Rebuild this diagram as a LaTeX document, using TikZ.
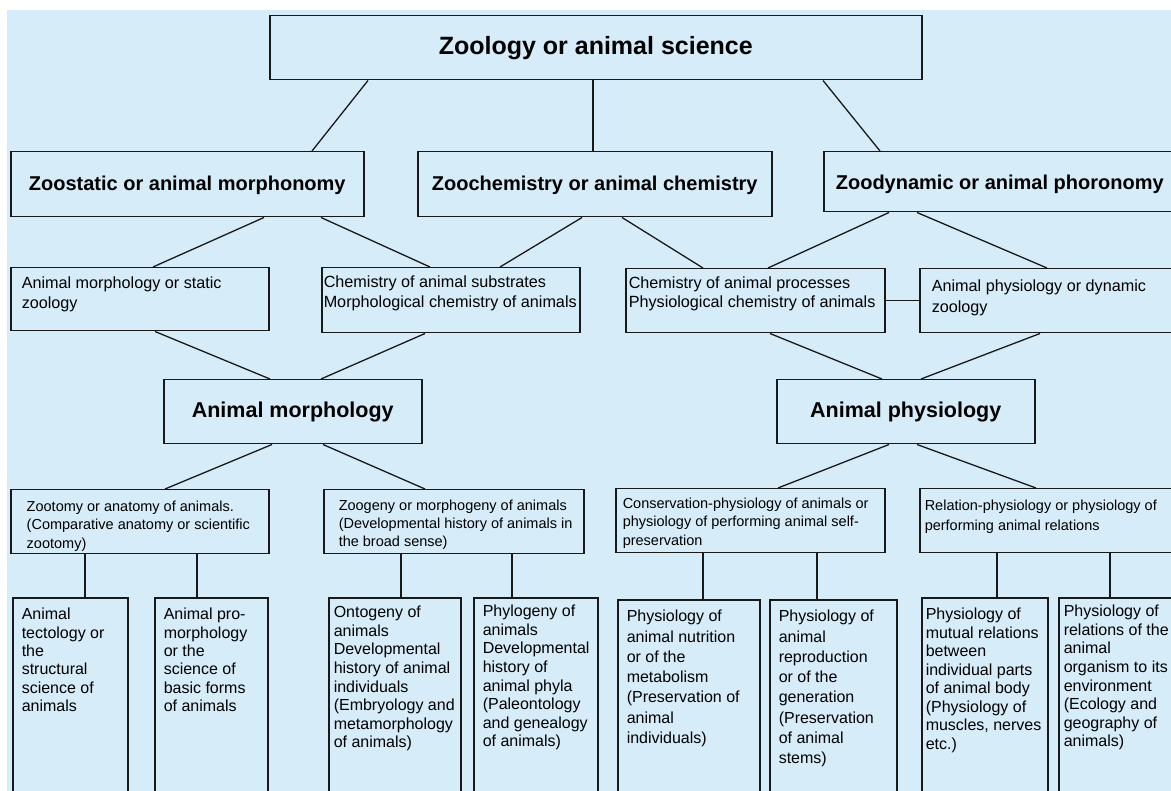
\documentclass[tikz,border=0pt]{standalone}
\usepackage{fontspec}
\setmainfont{Liberation Sans}
\definecolor{bg}{RGB}{214,236,249}
\definecolor{ink}{RGB}{25,25,25}
\tikzset{
  zb/.style={draw=ink, line width=1.5pt, fill=bg, inner sep=0pt, anchor=north west, text=black},
  conn/.style={draw=ink, line width=1.3pt}
}
% \zbox[inner pos]{name}{x1}{y1}{x2}{y2}{content}
\newcommand\zbox[7][t]{\node[zb] (#2) at (#3,#4) {\parbox[c][\dimexpr #6pt-#4pt\relax][#1]{\dimexpr #5pt-#3pt\relax}{#7}};}
% \ztitle{size}{text}
\newcommand\ztitle[2]{\centering\fontsize{#1pt}{#1pt}\selectfont\bfseries #2\par}
% \ztext{padL}{padT}{size}{leading}{lines}
\newcommand\ztext[5]{\vspace*{#2pt}\noindent\hspace*{#1pt}{\fontsize{#3pt}{#4pt}\selectfont\begin{tabular}[t]{@{}l@{}}#5\end{tabular}}\par}
\begin{document}
\begin{tikzpicture}[x=1pt,y=-1pt]
\useasboundingbox (0,0) rectangle (1171,791);
\clip (0,0) rectangle (1171,791);
\fill[white] (0,0) rectangle (1171,791);
\fill[bg] (7,10) rectangle (1171,791);

% level 1
\zbox[c]{top}{269}{15}{921}{79}{\ztitle{25}{Zoology or animal science}}
% level 2
\zbox[c]{zs}{10}{151}{363}{216}{\vspace*{2pt}\ztitle{20}{Zoostatic or animal morphonomy}}
\zbox[c]{zc}{417}{151}{771}{216}{\vspace*{2pt}\ztitle{20}{Zoochemistry or animal chemistry}}
\zbox[c]{zd}{823}{151}{1175}{211}{\vspace*{5pt}\ztitle{20}{Zoodynamic or animal phoronomy}}
% level 3
\zbox{ams}{10}{267}{268}{330}{\ztext{11}{6}{16.2}{20.5}{Animal morphology or static\\zoology}}
\zbox{cas}{321}{267}{579}{332}{\ztext{2}{6}{16.2}{20}{Chemistry of animal substrates\\Morphological chemistry of animals}}
\zbox{cap}{625}{268}{884}{332}{\ztext{3}{6.5}{16.2}{19}{Chemistry of animal processes\\Physiological chemistry of animals}}
\zbox{apd}{919}{268}{1180}{332}{\ztext{12}{8}{16.2}{21}{Animal physiology or dynamic\\zoology}}
% level 4
\zbox[c]{am}{163}{379}{421}{443}{\ztitle{21.5}{Animal morphology}}
\zbox[c]{ap}{776}{379}{1034}{443}{\ztitle{21.5}{Animal physiology}}
% level 5
\zbox{zt}{10}{489}{268}{553}{\ztext{16}{8.5}{14.5}{18.5}{Zootomy or anatomy of animals.\\(Comparative anatomy or scientific\\zootomy)}}
\zbox{zg}{323}{489}{583}{553}{\ztext{15}{8}{14.5}{18}{Zoogeny or morphogeny of animals\\(Developmental history of animals in\\the broad sense)}}
\zbox{cp}{615}{488}{884}{552}{\ztext{7}{6.5}{14.5}{18.5}{Conservation-physiology of animals or\\physiology of performing animal self-\\preservation}}
\zbox{rp}{919}{488}{1180}{552}{\ztext{5}{7.5}{14.5}{20}{Relation-physiology or physiology of\\performing animal relations}}
% level 6
\zbox{b1}{12}{597}{127}{800}{\ztext{9}{9}{16}{18.4}{Animal\\tectology or\\the\\structural\\science of\\animals}}
\zbox{b2}{154}{597}{267}{800}{\ztext{9}{9}{16}{18.4}{Animal pro-\\morphology\\or the\\science of\\basic forms\\of animals}}
\zbox{b3}{328}{597}{460}{800}{\ztext{5}{7}{16}{18.6}{Ontogeny of\\animals\\Developmental\\history of animal\\individuals\\(Embryology and\\metamorphology\\of animals)}}
\zbox{b4}{473}{597}{597}{800}{\ztext{9}{6}{16}{18.6}{Phylogeny of\\animals\\Developmental\\history of\\animal phyla\\(Paleontology\\and genealogy\\of animals)}}
\zbox{b5}{617}{599}{759}{800}{\ztext{9}{7.8}{16}{20.3}{Physiology of\\animal nutrition\\or of the\\metabolism\\(Preservation of\\animal\\individuals)}}
\zbox{b6}{769}{599}{896}{800}{\ztext{9}{7.8}{16}{20.3}{Physiology of\\animal\\reproduction\\or of the\\generation\\(Preservation\\of animal\\stems)}}
\zbox{b7}{921}{597}{1047}{800}{\ztext{4}{9}{16}{18.5}{Physiology of\\mutual relations\\between\\individual parts\\of animal body\\(Physiology of\\muscles, nerves\\etc.)}}
\zbox{b8}{1058}{597}{1185}{800}{\ztext{5}{6}{16}{18.6}{Physiology of\\relations of the\\animal\\organism to its\\environment\\(Ecology and\\geography of\\animals)}}

% connectors
\draw[conn] ([xshift=99pt]top.south west) -- ([xshift=302pt]zs.north west);
\draw[conn] ([xshift=324pt]top.south west) -- ([xshift=176pt]zc.north west);
\draw[conn] ([xshift=554pt]top.south west) -- ([xshift=57pt]zd.north west);
\draw[conn] ([xshift=254pt]zs.south west) -- ([xshift=143pt]ams.north west);
\draw[conn] ([xshift=311pt]zs.south west) -- ([xshift=109pt]cas.north west);
\draw[conn] ([xshift=165pt]zc.south west) -- ([xshift=179pt]cas.north west);
\draw[conn] ([xshift=205pt]zc.south west) -- ([xshift=78pt]cap.north west);
\draw[conn] ([xshift=66pt]zd.south west) -- ([xshift=143pt]cap.north west);
\draw[conn] ([xshift=94pt]zd.south west) -- ([xshift=128pt]apd.north west);
\draw[conn] (cap.east) -- (apd.west);
\draw[conn] ([xshift=145pt]ams.south west) -- ([xshift=107pt]am.north west);
\draw[conn] ([xshift=104pt]cas.south west) -- ([xshift=158pt]am.north west);
\draw[conn] ([xshift=145pt]cap.south west) -- ([xshift=106pt]ap.north west);
\draw[conn] ([xshift=121pt]apd.south west) -- ([xshift=145pt]ap.north west);
\draw[conn] ([xshift=109pt]am.south west) -- ([xshift=155pt]zt.north west);
\draw[conn] ([xshift=160pt]am.south west) -- ([xshift=102pt]zg.north west);
\draw[conn] ([xshift=113pt]ap.south west) -- ([xshift=163pt]cp.north west);
\draw[conn] ([xshift=141pt]ap.south west) -- ([xshift=117pt]rp.north west);
\draw[conn] ([xshift=75pt]zt.south west) -- ([xshift=73pt]b1.north west);
\draw[conn] ([xshift=187pt]zt.south west) -- ([xshift=43pt]b2.north west);
\draw[conn] ([xshift=78pt]zg.south west) -- ([xshift=73pt]b3.north west);
\draw[conn] ([xshift=189pt]zg.south west) -- ([xshift=39pt]b4.north west);
\draw[conn] ([xshift=88pt]cp.south west) -- ([xshift=86pt]b5.north west);
\draw[conn] ([xshift=202pt]cp.south west) -- ([xshift=48pt]b6.north west);
\draw[conn] ([xshift=78pt]rp.south west) -- ([xshift=76pt]b7.north west);
\draw[conn] ([xshift=191pt]rp.south west) -- ([xshift=52pt]b8.north west);
\end{tikzpicture}
\end{document}
